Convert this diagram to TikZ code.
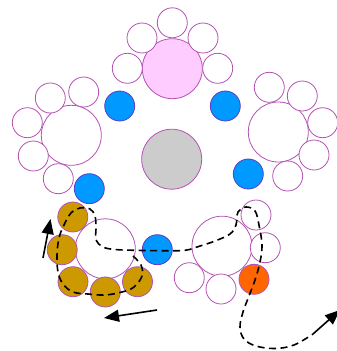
\documentclass[tikz,border=0pt]{standalone}
\usetikzlibrary{arrows.meta}
\definecolor{ring}{HTML}{B452B4}
\definecolor{pinkf}{HTML}{FFCCFF}
\definecolor{grayf}{HTML}{CCCCCC}
\definecolor{bluef}{HTML}{0099FF}
\definecolor{bluer}{HTML}{5A3CC8}
\definecolor{goldf}{HTML}{CC9900}
\definecolor{orangef}{HTML}{FF6600}
\tikzset{
  disc/.style={circle, draw=ring, line width=0.8pt, inner sep=0pt, minimum size=#1},
  small/.style={disc=30pt, fill=white},
  big/.style={disc=60pt, fill=white},
  bluedisc/.style={disc=30pt, fill=bluef, draw=bluer},
  golddisc/.style={disc=30pt, fill=goldf},
  orangedisc/.style={disc=30pt, fill=orangef},
  track/.style={line width=1.6pt, dash pattern=on 7pt off 4.5pt},
  motion/.style={line width=1.6pt, -{Triangle[length=15pt,width=12pt]}}
}
\begin{document}
\begin{tikzpicture}[x=1pt,y=-1pt]
\useasboundingbox (0,0) rectangle (337,351);
% top group
\node[big, fill=pinkf] (tb) at (172.3,68.7) {};
\node[small] (t1) at (172.3,22.8) {};
\node[small] (t2) at (142,38) {};
\node[small] (t3) at (203,38) {};
\node[small] (t4) at (127.3,68.3) {};
\node[small] (t5) at (217.7,68.3) {};
% left group
\node[big] (lb) at (71.3,135.3) {};
\node[small] (l1) at (50.3,98) {};
\node[small] (l2) at (83.7,92) {};
\node[small] (l3) at (27.3,122.7) {};
\node[small] (l4) at (33.3,156) {};
\node[small] (l5) at (58.3,178.7) {};
% right group
\node[big] (rb) at (278.3,132) {};
\node[small] (r1) at (269.3,87.3) {};
\node[small] (r2) at (302.3,96) {};
\node[small] (r3) at (322.7,122.7) {};
\node[small] (r4) at (314,155) {};
\node[small] (r5) at (287.7,176) {};
% centre
\node[big, fill=grayf] (c) at (171.7,159.2) {};
% blue discs
\node[bluedisc] (b1) at (119.7,106) {};
\node[bluedisc] (b2) at (225.3,106) {};
\node[bluedisc] (b3) at (248.3,174) {};
\node[bluedisc] (b4) at (89.3,188.7) {};
\node[bluedisc] (b5) at (157.3,249.7) {};
% bottom-left group
\node[big] (blb) at (105.3,248.8) {};
\node[golddisc] (g1) at (72.8,217) {};
\node[golddisc] (g2) at (62.2,249.7) {};
\node[golddisc] (g3) at (73,281.7) {};
\node[golddisc] (g4) at (105.3,292) {};
\node[golddisc] (g5) at (137.5,281.7) {};
% bottom-right group
\node[big] (brb) at (222,246.2) {};
\node[small] (s1) at (256,215) {};
\node[small] (s2) at (265.3,247.7) {};
\node[orangedisc] (o1) at (254,279.3) {};
\node[small] (s3) at (221,289) {};
\node[small] (s4) at (189.3,277.7) {};
% dashed track
\coordinate (trackend) at (313,334);
\draw[track] plot[smooth, tension=0.6] coordinates {
  (133,256) (141,265) (142,276) (134,287) (122,292) (105,295) (88,294)
  (73,292) (63,284) (58,272) (57,255) (59,238) (64,225) (71,213) (80,208)
  (90,209) (95,216) (96,228) (96,240) (103,247) (115,249.5) (135,250.3)
  (160,250.7) (185,250.3) (200,246) (215,241) (230,234) (236,225)
  (238,212) (246,207) (255,211) (259,225) (262,245) (260,262) (255,280)
  (249,296) (243,312) (240,327) (244,339) (256,346) (275,348.5) (294,345)
  (trackend)};
% direction arrows
\coordinate (a1s) at (43,258);
\coordinate (a1e) at (50.5,219);
\coordinate (a2s) at (157,310);
\coordinate (a2e) at (104,318);
\coordinate (a3e) at (340,310);
\draw[motion] (a1s) -- (a1e);
\draw[motion] (a2s) -- (a2e);
\draw[motion] (trackend) -- (a3e);
\end{tikzpicture}
\end{document}
